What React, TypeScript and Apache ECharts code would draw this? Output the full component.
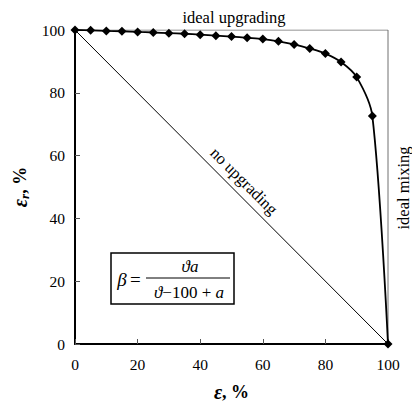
import React, { useEffect, useRef } from "react";
import * as echarts from "echarts";

const xValues = [0, 5, 10, 15, 20, 25, 30, 35, 40, 45, 50, 55, 60, 65, 70, 75, 80, 85, 90, 95, 100];
const yValues = [100, 99.9, 99.7, 99.6, 99.4, 99.2, 99.0, 98.8, 98.5, 98.2, 97.9, 97.5, 97.1, 96.4, 95.4, 94.1, 92.5, 89.8, 85.0, 72.6, 0];
const diagonal = [[0, 100], [100, 0]];
const frame = [[0, 100], [100, 100], [100, 0]];
const tickLabels = [0, 20, 40, 60, 80, 100];

const FONT = "'Liberation Serif', 'DejaVu Serif', serif";

export default function App() {
  const ref = useRef<HTMLDivElement>(null);
  useEffect(() => {
    if (!ref.current) return;
    const chart = echarts.init(ref.current, null, { renderer: "svg" });
    const curve = xValues.map((x, i) => [x, yValues[i]]);
    const txt = (extra: any) => ({ fontFamily: FONT, fill: "#000", ...extra });
    chart.setOption({
      animation: false,
      backgroundColor: "#fff",
      textStyle: { fontFamily: FONT },
      grid: { left: 75, right: 24, top: 30, bottom: 60 },
      xAxis: {
        type: "value",
        min: 0,
        max: 100,
        interval: 20,
        name: "{e|ε}{b|, %}",
        nameLocation: "middle",
        nameGap: 38,
        nameTextStyle: {
          rich: {
            e: { fontFamily: FONT, fontSize: 20, fontWeight: "bold", fontStyle: "italic", color: "#000" },
            b: { fontFamily: FONT, fontSize: 18, fontWeight: "bold", color: "#000" },
          },
        },
        axisLine: { lineStyle: { color: "#000", width: 2 } },
        axisTick: { inside: true, length: 5, lineStyle: { color: "#555", width: 1 } },
        axisLabel: {
          fontFamily: FONT,
          fontSize: 15.5,
          color: "#000",
          margin: 12,
          formatter: (v: number) => (tickLabels.includes(v) ? String(v) : ""),
        },
        splitLine: { show: false },
      },
      yAxis: {
        type: "value",
        min: 0,
        max: 100,
        interval: 20,
        name: "{e|ε}{s|r}{b|, %}",
        nameLocation: "middle",
        nameGap: 44,
        nameRotate: 90,
        nameTextStyle: {
          rich: {
            e: { fontFamily: FONT, fontSize: 20, fontWeight: "bold", fontStyle: "italic", color: "#000" },
            s: { fontFamily: FONT, fontSize: 13, fontWeight: "bold", fontStyle: "italic", color: "#000", verticalAlign: "bottom", padding: [8, 0, 0, 0] },
            b: { fontFamily: FONT, fontSize: 18, fontWeight: "bold", color: "#000" },
          },
        },
        axisLine: { lineStyle: { color: "#000", width: 2 } },
        axisTick: { inside: true, length: 5, lineStyle: { color: "#555", width: 1 } },
        axisLabel: {
          fontFamily: FONT,
          fontSize: 15.5,
          color: "#000",
          margin: 10,
          formatter: (v: number) => (tickLabels.includes(v) ? String(v) : ""),
        },
        splitLine: { show: false },
      },
      series: [
        {
          type: "line",
          data: frame,
          symbol: "none",
          lineStyle: { color: "#707070", width: 1 },
          silent: true,
          z: 1,
        },
        {
          type: "line",
          data: diagonal,
          symbol: "none",
          lineStyle: { color: "#000", width: 1 },
          silent: true,
          z: 2,
        },
        {
          type: "line",
          data: curve,
          smooth: 0.3,
          symbol: "diamond",
          symbolSize: 9,
          itemStyle: { color: "#000" },
          lineStyle: { color: "#000", width: 1.8 },
          z: 3,
        },
      ],
      graphic: [
        {
          type: "text",
          x: 234,
          y: 17,
          style: txt({ text: "ideal upgrading", fontSize: 16.5, align: "center", verticalAlign: "middle" }),
        },
        {
          type: "text",
          x: 403,
          y: 188,
          rotation: Math.PI / 2,
          style: txt({ text: "ideal mixing", fontSize: 16.5, align: "center", verticalAlign: "middle" }),
        },
        {
          type: "text",
          x: 244,
          y: 181,
          rotation: -Math.PI / 4,
          style: txt({ text: "no upgrading", fontSize: 16.5, align: "center", verticalAlign: "middle" }),
        },
        {
          type: "rect",
          shape: { x: 111, y: 253, width: 123, height: 51 },
          style: { fill: "#fff", stroke: "#000", lineWidth: 1.5 },
        },
        {
          type: "text",
          x: 129,
          y: 279,
          style: {
            text: "{i|β} {n|=}",
            rich: {
              i: { fontFamily: FONT, fontSize: 19, fontStyle: "italic", fill: "#000" },
              n: { fontFamily: FONT, fontSize: 19, fill: "#000" },
            },
            align: "center",
            verticalAlign: "middle",
          },
        },
        {
          type: "text",
          x: 190,
          y: 266,
          style: txt({ text: "ϑa", fontSize: 17, fontStyle: "italic", align: "center", verticalAlign: "middle" }),
        },
        {
          type: "line",
          shape: { x1: 146, y1: 278, x2: 230, y2: 278 },
          style: { stroke: "#000", lineWidth: 1 },
        },
        {
          type: "text",
          x: 189,
          y: 292,
          style: {
            text: "{i|ϑ}{n|−100 + }{i|a}",
            rich: {
              i: { fontFamily: FONT, fontSize: 17, fontStyle: "italic", fill: "#000" },
              n: { fontFamily: FONT, fontSize: 17, fill: "#000" },
            },
            align: "center",
            verticalAlign: "middle",
          },
        },
      ],
    });
    return () => chart.dispose();
  }, []);
  return <div ref={ref} style={{ width: 412, height: 407, position: "absolute", left: 0, top: 0 }} />;
}
